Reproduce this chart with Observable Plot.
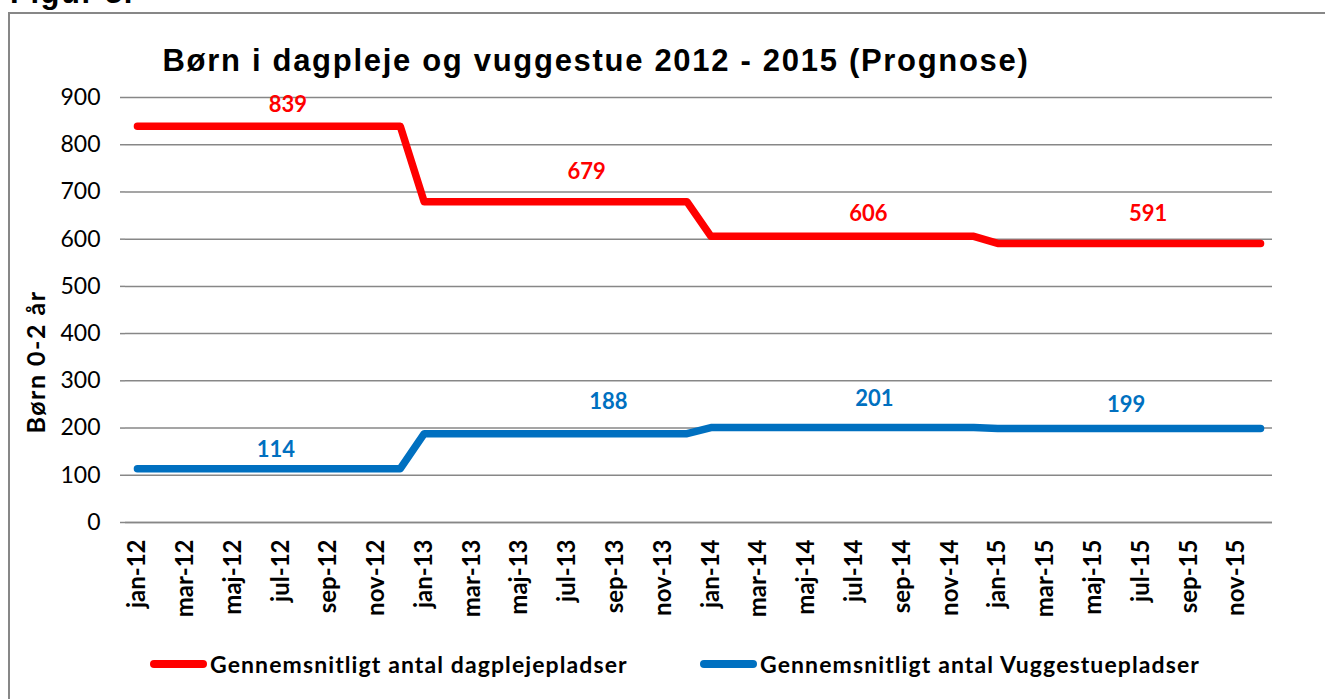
<!DOCTYPE html>
<html>
<head>
<meta charset="utf-8">
<script src="https://cdn.jsdelivr.net/npm/d3@7"></script>
<script src="https://cdn.jsdelivr.net/npm/@observablehq/plot@0.6"></script>
<style>
  html, body { margin: 0; padding: 0; background: #fff; }
  #wrap { position: relative; width: 1325px; height: 699px; overflow: hidden; background: #fff; }
  #figur { position: absolute; left: 10px; top: -25px; font: bold 31px "Liberation Sans", Arial, sans-serif; letter-spacing: 1.5px; color: #000; white-space: nowrap; }
  #box { position: absolute; left: 8px; top: 12px; width: 1400px; height: 800px; border: 2px solid #878787; box-sizing: border-box; }
  #title { position: absolute; left: 0; width: 1192px; text-align: center; top: 43px; font: bold 31px "Liberation Sans", Arial, sans-serif; letter-spacing: 1.7px; color: #000; white-space: nowrap; }
  #chart { position: absolute; left: 0; top: 0; }
  #ytitle { position: absolute; left: 35px; top: 362px; transform: translate(-50%, -50%) rotate(-90deg); font: bold 25px Lato, sans-serif; letter-spacing: 1.5px; white-space: nowrap; color: #000; }
  .leg { position: absolute; top: 650px; font: bold 23px Lato, sans-serif; letter-spacing: 1.1px; color: #000; white-space: nowrap; display: flex; align-items: center; }
  .leg span.sw { display: inline-block; width: 57px; height: 8px; border-radius: 4px; margin-right: 3px; }
</style>
</head>
<body>
<div id="wrap">
  <div id="figur">Figur 3.</div>
  <div id="box"></div>
  <div id="chart"></div>
  <div id="title">Børn i dagpleje og vuggestue 2012 - 2015 (Prognose)</div>
  <div id="ytitle">Børn 0-2 år</div>
  <div class="leg" id="leg1" style="left:150px"><span class="sw" style="background:#FF0000"></span><span id="leg1t"></span></div>
  <div class="leg" id="leg2" style="left:700px"><span class="sw" style="background:#0070C0"></span><span id="leg2t"></span></div>
</div>
<script>
// ---- data ----
const months = [
  "jan-12","feb-12","mar-12","apr-12","maj-12","jun-12","jul-12","aug-12","sep-12","okt-12","nov-12","dec-12",
  "jan-13","feb-13","mar-13","apr-13","maj-13","jun-13","jul-13","aug-13","sep-13","okt-13","nov-13","dec-13",
  "jan-14","feb-14","mar-14","apr-14","maj-14","jun-14","jul-14","aug-14","sep-14","okt-14","nov-14","dec-14",
  "jan-15","feb-15","mar-15","apr-15","maj-15","jun-15","jul-15","aug-15","sep-15","okt-15","nov-15","dec-15"
];
const tickMonths = [
  "jan-12","mar-12","maj-12","jul-12","sep-12","nov-12",
  "jan-13","mar-13","maj-13","jul-13","sep-13","nov-13",
  "jan-14","mar-14","maj-14","jul-14","sep-14","nov-14",
  "jan-15","mar-15","maj-15","jul-15","sep-15","nov-15"
];
const yTicks = [0, 100, 200, 300, 400, 500, 600, 700, 800, 900];
const seriesNames = ["Gennemsnitligt antal dagplejepladser", "Gennemsnitligt antal Vuggestuepladser"];
const dagpleje = [
  839,839,839,839,839,839,839,839,839,839,839,839,
  679,679,679,679,679,679,679,679,679,679,679,679,
  606,606,606,606,606,606,606,606,606,606,606,606,
  591,591,591,591,591,591,591,591,591,591,591,591
];
const vuggestue = [
  114,114,114,114,114,114,114,114,114,114,114,114,
  188,188,188,188,188,188,188,188,188,188,188,188,
  201,201,201,201,201,201,201,201,201,201,201,201,
  199,199,199,199,199,199,199,199,199,199,199,199
];
const dagLabelMonths = ["jul-12","jul-13","jul-14","jul-15"];
const dagLabelValues = [839, 679, 606, 591];
const vugLabelMonths = ["jun-12","aug-13","jul-14","jun-15"];
const vugLabelValues = [114, 188, 201, 199];

// ---- styling offsets for data labels (pixels) ----
const dagLabelDx = [7, 19, 14, 7];
const dagLabelDy = [-21, -30, -22, -29];
const vugLabelDx = [19, 17, 20, 9];
const vugLabelDy = [-19, -32, -29, -24];

const RED = "#FF0000", BLUE = "#0070C0";
const dagData = months.map((m, i) => ({m, v: dagpleje[i]}));
const vugData = months.map((m, i) => ({m, v: vuggestue[i]}));

const labelMarks = [];
dagLabelMonths.forEach((m, i) => {
  labelMarks.push(Plot.text([{m, v: dagLabelValues[i]}], {
    x: "m", y: "v", text: d => String(d.v), dx: dagLabelDx[i], dy: dagLabelDy[i],
    fill: RED, fontWeight: "bold", fontSize: 22, fontFamily: "Lato, sans-serif"
  }));
});
vugLabelMonths.forEach((m, i) => {
  labelMarks.push(Plot.text([{m, v: vugLabelValues[i]}], {
    x: "m", y: "v", text: d => String(d.v), dx: vugLabelDx[i], dy: vugLabelDy[i],
    fill: BLUE, fontWeight: "bold", fontSize: 22, fontFamily: "Lato, sans-serif"
  }));
});

const chart = Plot.plot({
  width: 1325,
  height: 645,
  marginLeft: 125,
  marginRight: 53,
  marginTop: 97,
  marginBottom: 123,
  style: {background: "transparent", color: "#000", fontFamily: "Lato, sans-serif"},
  x: {type: "point", domain: months, padding: 0.5},
  y: {domain: [0, 900]},
  marks: [
    Plot.gridY(yTicks, {stroke: "#878787", strokeOpacity: 1, strokeWidth: 1.5}),
    Plot.ruleY([0], {stroke: "#878787", strokeWidth: 1.5}),
    Plot.axisY({ticks: yTicks, tickSize: 5, tickPadding: 20, fontSize: 23, stroke: "#878787", strokeWidth: 1.5, label: null, line: true}),
    Plot.axisX({ticks: tickMonths, tickRotate: -90, tickSize: 0, tickPadding: 17, fontSize: 24, fontWeight: "bold", letterSpacing: "1.4px", label: null}),
    Plot.line(dagData, {x: "m", y: "v", stroke: RED, strokeWidth: 7.5, strokeLinecap: "round", strokeLinejoin: "round"}),
    Plot.line(vugData, {x: "m", y: "v", stroke: BLUE, strokeWidth: 7.5, strokeLinecap: "round", strokeLinejoin: "round"}),
    ...labelMarks
  ]
});
document.getElementById("chart").appendChild(chart);
document.getElementById("leg1t").textContent = seriesNames[0];
document.getElementById("leg2t").textContent = seriesNames[1];
</script>
</body>
</html>
